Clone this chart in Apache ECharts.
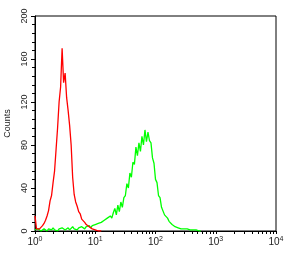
<!DOCTYPE html>
<html><head><meta charset="utf-8">
<script src="https://cdn.jsdelivr.net/npm/echarts@6/dist/echarts.min.js"></script>
<style>html,body{margin:0;padding:0;background:#fff}#c{width:298px;height:257px}</style>
</head><body><div id="c"></div>
<script>
// log10 of fluorescence intensity, per channel
var channels = [0,0.025,0.05,0.075,0.1,0.125,0.15,0.175,0.2,0.225,0.25,0.275,0.3,0.325,0.35,0.375,0.4,0.425,0.45,0.475,0.5,0.525,0.55,0.575,0.6,0.625,0.65,0.675,0.7,0.725,0.75,0.775,0.8,0.825,0.85,0.875,0.9,0.925,0.95,0.975,1.0,1.025,1.05,1.075,1.1,1.125,1.15,1.175,1.2,1.225,1.25,1.275,1.3,1.325,1.35,1.375,1.4,1.425,1.45,1.475,1.5,1.525,1.55,1.575,1.6,1.625,1.65,1.675,1.7,1.725,1.75,1.775,1.8,1.825,1.85,1.875,1.9,1.925,1.95,1.975,2.0,2.025,2.05,2.075,2.1,2.125,2.15,2.175,2.2,2.225,2.25,2.275,2.3,2.325,2.35,2.375,2.4,2.425,2.45,2.475,2.5,2.525,2.55,2.575,2.6,2.625,2.65,2.675,2.7,2.725,2.75];
var redCounts = [14,2,1,2,3,5,7,10,14,19,28,33,45,56,76,96,120,134,170,138,147,124,112,98,80,50,34,27,23,18,16,11,12,8,6,7,4,5,2,3,1,2,0,1,0];
var greenCounts = [1,0,2,1,0,1,2,1,0,2,1,1,3,1,2,0,2,1,3,2,1,2,3,1,2,4,2,3,1,3,2,4,3,2,4,3,5,3,5,4,6,5,7,6,8,7,10,9,12,11,14,12,17,21,15,24,18,27,22,31,33,44,40,54,50,64,62,78,70,82,74,88,80,94,83,92,84,82,68,63,48,45,33,31,22,22,15,16,12,9,8,6,7,4,5,3,4,2,3,2,1,2,1,1,0,1,0,1,0,0,0];
var xTickLabels = ['0','1','2','3','4'];
var yTicks = [0,40,80,120,160,200];

function pairs(vals){ return vals.map(function(v,i){ return [channels[i], v]; }); }
var minorX = [];
for (var d = 0; d < 4; d++) for (var k = 1; k <= 9; k++) minorX.push(d + Math.log10(k));
minorX.push(4);

var chart = echarts.init(document.getElementById('c'));
var font = 'Liberation Sans, Arial, sans-serif';
chart.setOption({
  animation: false,
  grid: {left: 35, top: 16, right: 22, bottom: 26, show: true, borderColor: '#000', borderWidth: 1, outerBoundsMode: 'none', containLabel: false},
  xAxis: {
    type: 'value', min: 0, max: 4, interval: 1,
    axisLine: {lineStyle: {color: '#000', width: 1}},
    axisTick: {show: true, length: 3, customValues: minorX, lineStyle: {color: '#000'}},
    splitLine: {show: false},
    axisLabel: {
      color: '#222', fontFamily: font, margin: 5,
      formatter: function(v){ return '{b|10}{s|' + xTickLabels[Math.round(v)] + '}'; },
      rich: {b: {fontSize: 10, fontFamily: font, color: '#222'}, s: {fontSize: 7, fontFamily: font, color: '#222', padding: [0,0,6,0]}}
    }
  },
  yAxis: {
    type: 'value', min: 0, max: 200, interval: 40,
    name: 'Counts', nameLocation: 'middle', nameGap: 21, nameRotate: 90,
    nameTextStyle: {fontSize: 9, fontFamily: font, color: '#222'},
    axisLine: {show: true, lineStyle: {color: '#000', width: 1}},
    axisTick: {show: true, length: 4, lineStyle: {color: '#000'}},
    minorTick: {show: true, splitNumber: 5, length: 3, lineStyle: {color: '#000'}},
    splitLine: {show: false},
    axisLabel: {rotate: 90, fontSize: 9, fontFamily: font, color: '#222', margin: 6,
      customValues: yTicks}
  },
  series: [
    {type: 'line', data: pairs(greenCounts), showSymbol: false, lineStyle: {color: '#00ff00', width: 1.3}, itemStyle: {color: '#00ff00'}},
    {type: 'line', data: pairs(redCounts), showSymbol: false, lineStyle: {color: '#ff0000', width: 1.3}, itemStyle: {color: '#ff0000'}}
  ]
});
</script></body></html>
